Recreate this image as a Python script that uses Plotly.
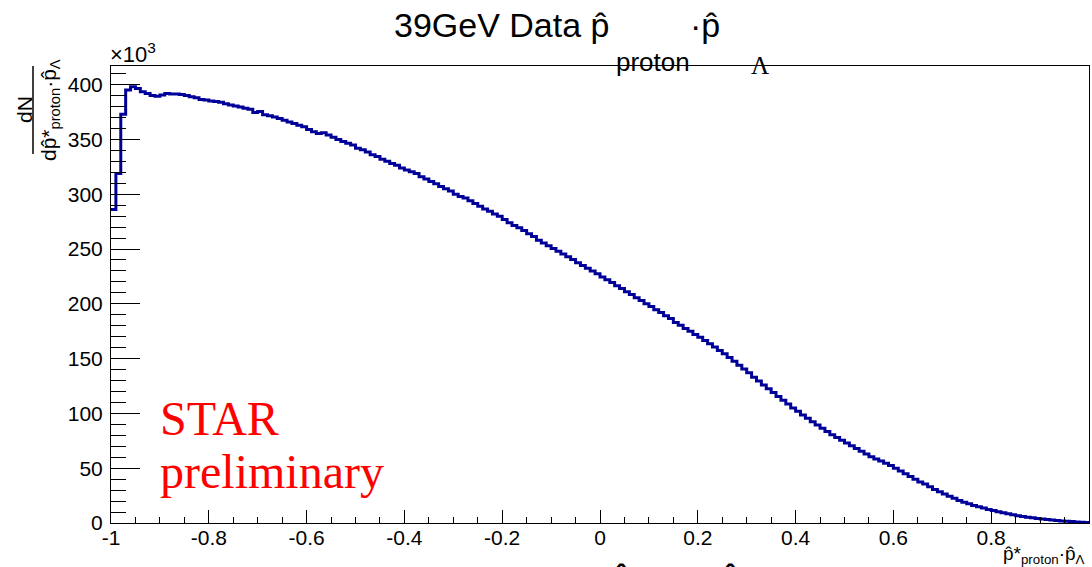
import plotly.graph_objects as go

# ---------------- data (counts in units of 10^3) ----------------
bin_low = -1.0
bin_width = 0.01
counts_k = [
    286, 319, 373, 395, 398, 396.5, 393.5, 392, 390, 389.5,
    390.5, 392, 391.5, 391.5, 391, 390, 389, 388, 386.5, 386,
    385, 384.5, 384, 382.5, 381.5, 380.5, 379.5, 378.5, 377.5, 374.5,
    375.5, 372.5, 371.5, 370.5, 369, 367.5, 366, 364.5, 363, 361.5,
    359, 357, 355.5, 356, 354, 352, 350, 348, 346.5, 345,
    342, 340.5, 338.5, 336, 334.5, 332, 330, 328, 326.5, 324,
    322, 320.5, 319, 316, 314, 311.5, 309.5, 307, 305, 303,
    300, 298, 296.5, 294, 291.5, 289, 286.5, 284.5, 282, 280,
    277, 274, 271.5, 269.5, 267, 264, 261.5, 258, 255.5, 253,
    250.5, 248, 245.5, 243, 240.5, 237.5, 235, 232.5, 230, 227.5,
    224.5, 222, 219.5, 216.5, 214, 211, 208.5, 205.5, 203, 200,
    197.5, 194.5, 192, 189, 186.5, 183, 180.5, 177.5, 175, 172,
    169.5, 166.5, 163.5, 160.5, 157.5, 154.5, 151, 147.5, 144, 140.5,
    137, 133, 129.5, 126, 122.5, 119, 115.5, 112, 108.5, 105,
    102, 98.5, 95.5, 92.5, 89.5, 86.5, 83.5, 80.5, 78, 75.5,
    73, 70.5, 68, 65.5, 63, 60.5, 58.5, 56.5, 54.5, 52.5,
    50, 47.5, 45, 42.5, 40, 37.5, 35.5, 33, 30.5, 28.5,
    26.5, 24.5, 22.5, 20.5, 19, 17.5, 16, 14.8, 13.6, 12.4,
    11.3, 10.3, 9.3, 8.4, 7.5, 6.7, 6, 5.3, 4.7, 4.1,
    3.6, 3.1, 2.7, 2.3, 1.9, 1.6, 1.3, 1.0, 0.7, 0.4,
]
x_tickvals = [-1, -0.8, -0.6, -0.4, -0.2, 0, 0.2, 0.4, 0.6, 0.8, 1]
x_ticktext = ["-1", "-0.8", "-0.6", "-0.4", "-0.2", "0", "0.2", "0.4", "0.6", "0.8", "1"]
y_tickvals = [0, 50, 100, 150, 200, 250, 300, 350, 400]
y_ticktext = ["0", "50", "100", "150", "200", "250", "300", "350", "400"]

# step outline: left edges + final right edge
edges = [bin_low + i * bin_width for i in range(len(counts_k) + 1)]
ys = counts_k + [counts_k[-1]]

W, H = 1092, 567
L, R, T, B = 111, 3, 66, 44
PW, PH = W - L - R, H - T - B


def fx(px):
    return (px - L) / PW


def fy(py):
    return (H - B - py) / PH


SANS = "Liberation Sans, Arial, Helvetica, sans-serif"
SERIF = "Liberation Serif, Times New Roman, serif"

fig = go.Figure()
fig.add_trace(go.Scatter(
    x=edges, y=ys, mode="lines", line=dict(shape="hv", color="#000099", width=3),
    showlegend=False, hoverinfo="skip",
))

ann = []


def add(text, x, y, size, xanchor="left", yanchor="middle", font=SANS, color="black", angle=0):
    ann.append(dict(text=text, x=fx(x), y=fy(y), xref="paper", yref="paper",
                    xanchor=xanchor, yanchor=yanchor, showarrow=False, textangle=angle,
                    font=dict(family=font, size=size, color=color)))


# title
add("39GeV Data p\u0302", 392, 25, 34)
add("proton", 614, 62, 26)
add("\u00b7p\u0302", 688, 25, 34)
add("\u039b", 749, 65, 25, font=SERIF)
# exponent
add("\u00d710<sup>3</sup>", 108, 53, 22)
# y title (fraction)
add("dN", 24, 110, 21, xanchor="center", angle=-90)
add("dp\u0302*<sub>proton</sub>\u00b7p\u0302<sub>\u039b</sub>", 50, 110, 21, xanchor="center", angle=-90)
# x title
add("p\u0302*<sub>proton</sub>\u00b7p\u0302<sub>\u039b</sub>", 1087, 541, 19, xanchor="right", yanchor="top")
# clipped text at the very bottom
add("p\u0302<sub>proton</sub>\u00b7p\u0302<sub>\u039b</sub>", 608, 556, 38, yanchor="top")
# STAR preliminary
add("STAR", 158, 418, 48, font=SERIF, color="red")
add("preliminary", 158, 471, 48, font=SERIF, color="red")

fig.update_layout(
    width=W, height=H, margin=dict(l=L, r=R, t=T, b=B),
    paper_bgcolor="white", plot_bgcolor="white",
    annotations=ann,
    shapes=[dict(type="line", xref="paper", yref="paper", x0=fx(33), x1=fx(33), y0=fy(66), y1=fy(154),
                 line=dict(color="black", width=1.5))],
    xaxis=dict(range=[-1, 1], showgrid=False, zeroline=False, showline=True, linecolor="black",
               linewidth=1, mirror=True, ticks="inside", ticklen=13, tickcolor="black",
               tickmode="array", tickvals=x_tickvals, ticktext=x_ticktext,
               tickfont=dict(family=SANS, size=21, color="black"), ticklabelstandoff=-4,
               minor=dict(ticks="inside", ticklen=6.5, tickcolor="black", tickmode="linear",
                          tick0=-1, dtick=0.05)),
    yaxis=dict(range=[0, 417], showgrid=False, zeroline=False, showline=True, linecolor="black",
               linewidth=1, mirror=True, ticks="inside", ticklen=29, tickcolor="black",
               tickmode="array", tickvals=y_tickvals, ticktext=y_ticktext,
               tickfont=dict(family=SANS, size=21, color="black"), ticklabelstandoff=3,
               minor=dict(ticks="inside", ticklen=14.5, tickcolor="black", tickmode="linear",
                          tick0=0, dtick=10)),
)

fig.write_html("out.html")
